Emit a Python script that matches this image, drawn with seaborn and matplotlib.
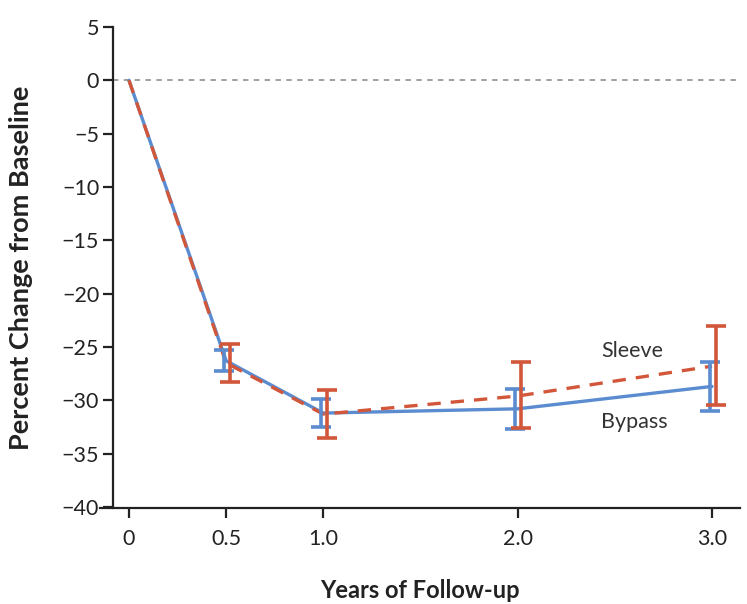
import seaborn as sns
import pandas as pd
import matplotlib.pyplot as plt

years = [0, 0.5, 1.0, 2.0, 3.0]
bypass = [0, -26.3, -31.2, -30.8, -28.7]
bypass_lo = [None, -27.3, -32.5, -32.7, -31.0]
bypass_hi = [None, -25.3, -29.9, -28.9, -26.4]
sleeve = [0, -26.5, -31.3, -29.6, -26.8]
sleeve_lo = [None, -28.3, -33.5, -32.6, -30.4]
sleeve_hi = [None, -24.7, -29.0, -26.4, -23.0]
tick_labels = ['0', '0.5', '1.0', '2.0', '3.0']

blue = '#5b8cd0'
red = '#d2573a'

sns.set_style('ticks')
plt.rcParams['font.family'] = ['Lato', 'DejaVu Sans']

df = pd.DataFrame({'years': years * 2,
                   'change': bypass + sleeve,
                   'group': ['Bypass'] * 5 + ['Sleeve'] * 5})

fig = plt.figure(figsize=(7.47, 6.04), dpi=100)
ax = fig.add_axes([100 / 747, 1 - 508 / 604, 640 / 747, 481 / 604])

spine_x = -0.082
ax.hlines(0, spine_x, 3.144, color='#999999', lw=1.3, ls=(0, (3, 3)), zorder=1)

sns.lineplot(data=df, x='years', y='change', hue='group', style='group',
             palette={'Bypass': blue, 'Sleeve': red},
             dashes={'Bypass': '', 'Sleeve': (4, 3)},
             lw=2.4, legend=False, ax=ax, zorder=3)

for vals, lo, hi, col, dx in [(bypass, bypass_lo, bypass_hi, blue, -0.012),
                              (sleeve, sleeve_lo, sleeve_hi, red, 0.018)]:
    xs = [x + dx for x in years[1:]]
    mid = [(a + b) / 2 for a, b in zip(lo[1:], hi[1:])]
    err = [[m - a for m, a in zip(mid, lo[1:])], [b - m for m, b in zip(mid, hi[1:])]]
    ax.errorbar(xs, mid, yerr=err, fmt='none', ecolor=col, elinewidth=2.6,
                capsize=7.5, capthick=2.6, zorder=5)

ax.text(2.43, -25.9, 'Sleeve', fontsize=15.5, color='#333333')
ax.text(2.43, -32.6, 'Bypass', fontsize=15.5, color='#333333')

ax.set_xlim(-0.149, 3.144)
ax.set_ylim(-40.1, 5)
ax.set_xticks(years)
ax.set_xticklabels(tick_labels)
ax.set_yticks(range(-40, 6, 5))
ax.set_yticklabels([str(v).replace('-', '\u2212') for v in range(-40, 6, 5)])
ax.spines['left'].set_position(('data', spine_x))
ax.spines['left'].set_bounds(-40.1, 5)
ax.spines['right'].set_visible(False)
ax.spines['top'].set_visible(False)
for s in ['left', 'bottom']:
    ax.spines[s].set_linewidth(1.6)
    ax.spines[s].set_color('#222222')
ax.tick_params(axis='both', length=7, width=1.6, color='#222222',
               labelsize=15.5, labelcolor='#222222')
ax.tick_params(axis='x', pad=8)
ax.tick_params(axis='y', pad=3)

ax.set_xlabel('Years of Follow-up', fontsize=17, fontweight='bold',
              color='#222222', labelpad=22)
ax.set_ylabel('Percent Change from Baseline', fontsize=19.5, fontweight='bold',
              color='#222222')
ax.yaxis.set_label_coords(-0.105, 0.5)

fig.savefig('out.png', dpi=100)
